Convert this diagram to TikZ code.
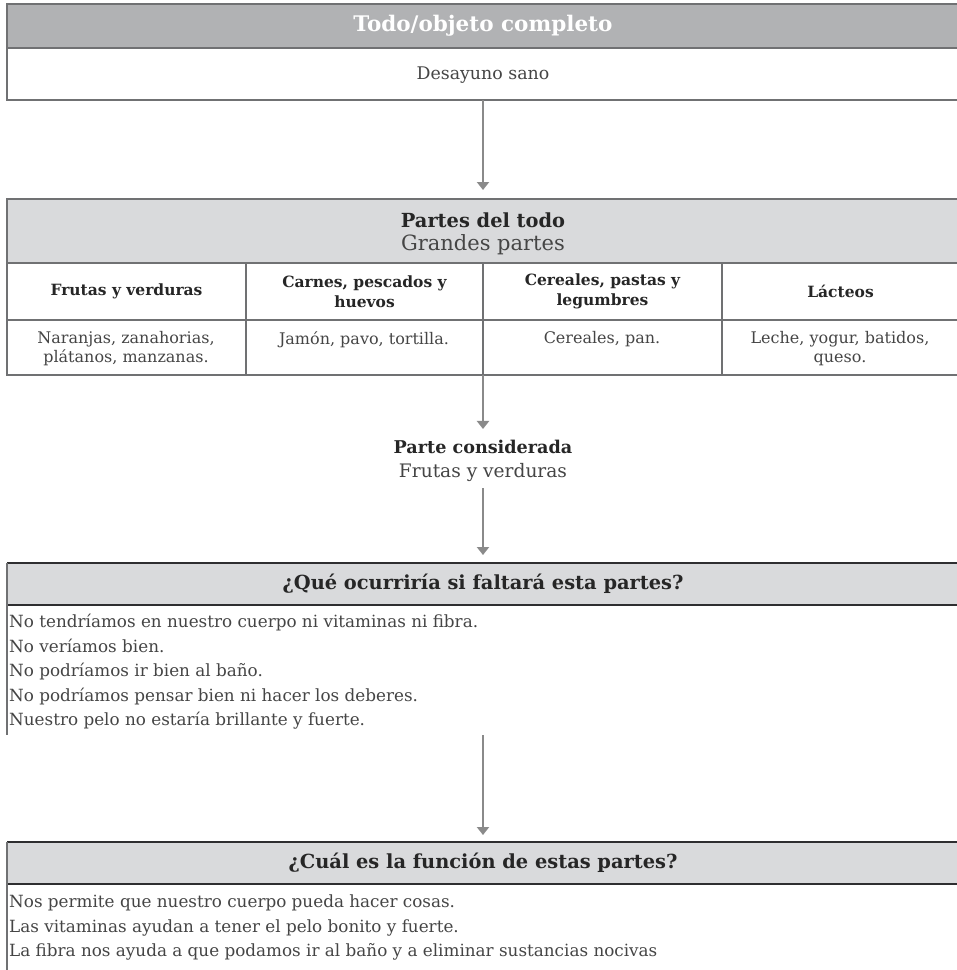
\documentclass[tikz,border=0pt]{standalone}
\usepackage{fontspec}
\setmainfont{DejaVu Serif}
\usetikzlibrary{arrows.meta}

\definecolor{hdrdark}{HTML}{B1B2B4}
\definecolor{hdrlight}{HTML}{D9DADC}
\definecolor{rulegray}{HTML}{707173}
\definecolor{ruledark}{HTML}{2E2E30}
\definecolor{arrowgray}{HTML}{8A8A8A}
\definecolor{bodyink}{HTML}{454545}
\definecolor{boldink}{HTML}{262626}

\tikzset{
  cell/.style={rectangle, inner sep=0pt, outer sep=0pt, anchor=north west},
  framed/.style={cell, draw=rulegray, line width=1.4pt},
  bodytxt/.style={font=\fontsize{16.8}{20}\selectfont, text=bodyink, inner sep=0pt},
  linetxt/.style={bodytxt, anchor=west, text height=12pt, text depth=3.5pt},
  titletxt/.style={font=\fontsize{19.4}{23}\selectfont\bfseries, text=boldink, inner sep=0pt},
  subtxt/.style={font=\fontsize{19}{23}\selectfont, text=bodyink, inner sep=0pt},
  colhead/.style={font=\fontsize{15.5}{19.5}\selectfont\bfseries, text=boldink, align=center},
  celltxt/.style={font=\fontsize{16}{19.5}\selectfont, text=bodyink, align=center, inner sep=0pt},
  flow/.style={draw=arrowgray, line width=2.2pt, -{Triangle[width=12pt,length=8pt]}},
}

\begin{document}
\begin{tikzpicture}[x=1pt,y=-1pt]
\clip (0,0) rectangle (957,970);
\fill[white] (0,0) rectangle (957,970);

% --- whole object ---
\node[framed, fill=hdrdark, minimum width=952pt, minimum height=44pt,
      font=\fontsize{21.5}{25}\selectfont\bfseries, text=white] (h1) at (7,4) {Todo/objeto completo};
\node[framed, minimum width=952pt, minimum height=52pt] (b1) at (7,48) {};
\node[bodytxt, font=\fontsize{17.4}{20}\selectfont] (t1) at (483,75) {Desayuno sano};

% --- parts of the whole ---
\node[framed, fill=hdrlight, minimum width=952pt, minimum height=64pt] (h2) at (7,199) {};
\node[titletxt] (t2a) at (483,220) {Partes del todo};
\node[subtxt, font=\fontsize{21}{25}\selectfont] (t2b) at (483,245) {Grandes partes};

\node[framed, minimum width=239pt, minimum height=57pt, colhead] (c1) at (7,263)   {Frutas y verduras};
\node[framed, minimum width=237pt, minimum height=57pt, colhead] (c2) at (246,263) {Carnes, pescados y\\huevos};
\node[framed, minimum width=239pt, minimum height=57pt, colhead] (c3) at (483,263) {Cereales, pastas y\\legumbres};
\node[framed, minimum width=237pt, minimum height=57pt, colhead] (c4) at (722,263) {Lácteos};

\node[framed, minimum width=239pt, minimum height=55pt] (d1) at (7,320)   {};
\node[framed, minimum width=237pt, minimum height=55pt] (d2) at (246,320) {};
\node[framed, minimum width=239pt, minimum height=55pt] (d3) at (483,320) {};
\node[framed, minimum width=237pt, minimum height=55pt] (d4) at (722,320) {};
\node[celltxt, anchor=north] (e1) at (126,331) {Naranjas, zanahorias,\\plátanos, manzanas.};
\node[celltxt, anchor=north] (e2) at (364,331) {Jamón, pavo, tortilla.};
\node[celltxt, anchor=north] (e3) at (602,331) {Cereales, pan.};
\node[celltxt, anchor=north] (e4) at (840,331) {Leche, yogur, batidos,\\queso.};

% --- the part considered ---
\node[titletxt, font=\fontsize{17.6}{21}\selectfont\bfseries] (pc) at (483,447) {Parte considerada};
\node[subtxt, font=\fontsize{18.6}{22}\selectfont] (pv) at (483,472) {Frutas y verduras};

% --- what if this part were missing ---
\node[cell, fill=hdrlight, minimum width=952pt, minimum height=42pt] (h4) at (7,563) {};
\draw[ruledark, line width=1.4pt] (h4.north west) -- (h4.north east);
\draw[ruledark, line width=1.4pt] (h4.south west) -- (h4.south east);
\draw[rulegray, line width=1.4pt] (h4.north west) -- (h4.south west);
\node[titletxt] (t4) at (483,584) {¿Qué ocurriría si faltará esta partes?};
\node[cell, minimum width=952pt, minimum height=130pt] (b4) at (7,605) {};
\draw[rulegray, line width=1.4pt] (b4.north west) -- (b4.south west);
\node[linetxt] (l41) at (9,623) {No tendríamos en nuestro cuerpo ni vitaminas ni fibra.};
\node[linetxt] (l42) at (9,648) {No veríamos bien.};
\node[linetxt] (l43) at (9,672) {No podríamos ir bien al baño.};
\node[linetxt] (l44) at (9,697) {No podríamos pensar bien ni hacer los deberes.};
\node[linetxt] (l45) at (9,721) {Nuestro pelo no estaría brillante y fuerte.};

% --- function of these parts ---
\node[cell, fill=hdrlight, minimum width=952pt, minimum height=42pt] (h5) at (7,842) {};
\draw[ruledark, line width=1.4pt] (h5.north west) -- (h5.north east);
\draw[ruledark, line width=1.4pt] (h5.south west) -- (h5.south east);
\draw[rulegray, line width=1.4pt] (h5.north west) -- (h5.south west);
\node[titletxt] (t5) at (483,863) {¿Cuál es la función de estas partes?};
\node[cell, minimum width=952pt, minimum height=90pt] (b5) at (7,884) {};
\draw[rulegray, line width=1.4pt] (b5.north west) -- (b5.south west);
\node[linetxt] (l51) at (9,903) {Nos permite que nuestro cuerpo pueda hacer cosas.};
\node[linetxt] (l52) at (9,928) {Las vitaminas ayudan a tener el pelo bonito y fuerte.};
\node[linetxt] (l53) at (9,952) {La fibra nos ayuda a que podamos ir al baño y a eliminar sustancias nocivas};

% --- connectors ---
\draw[flow, shorten >=9pt] (b1.south) -- (h2.north);
\draw[flow, shorten >=11pt] (d3.south west) -- (pc.north);
\draw[flow, shorten <=7pt, shorten >=8pt] (pv.south) -- (h4.north);
\draw[flow, shorten >=7pt] (b4.south) -- (h5.north);
\end{tikzpicture}
\end{document}
